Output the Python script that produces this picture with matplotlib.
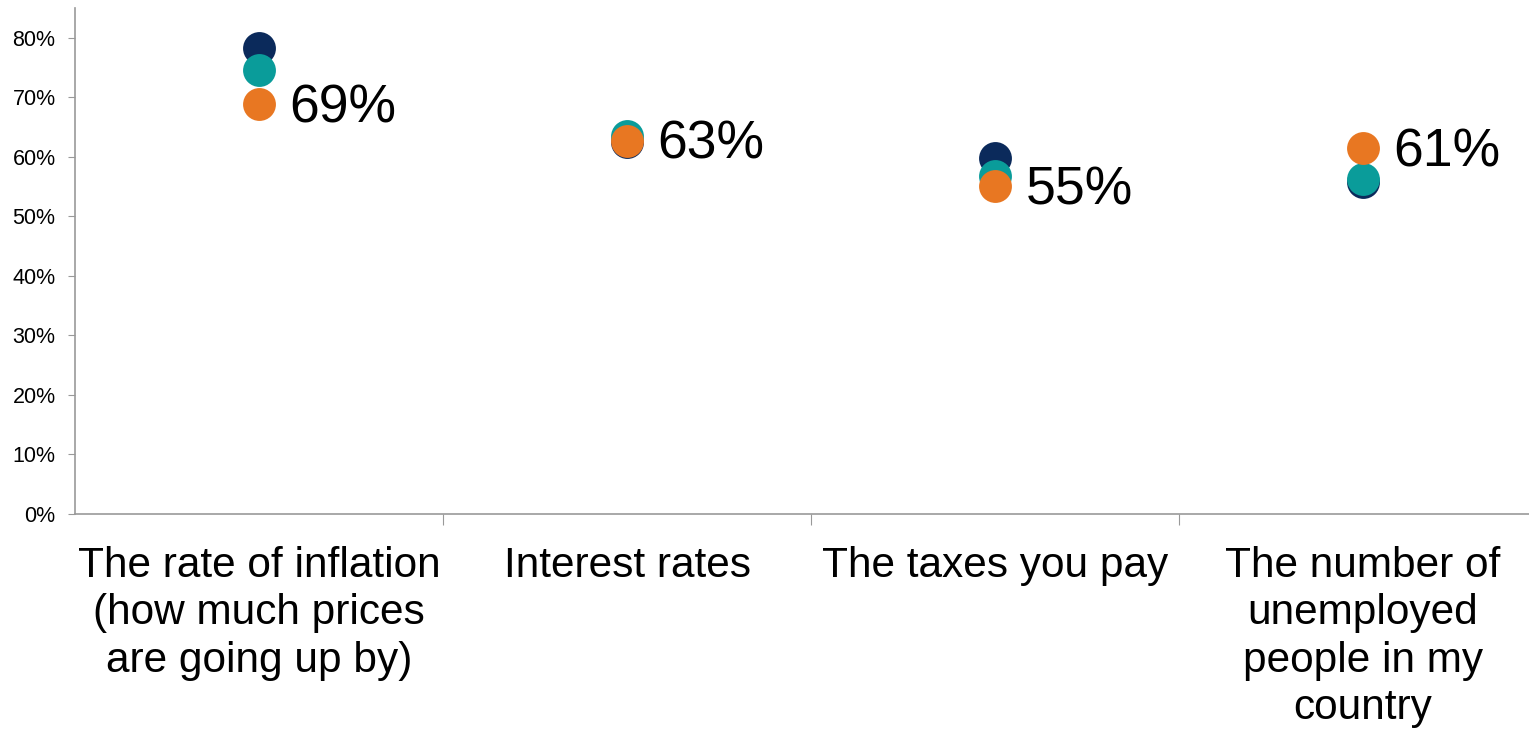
import matplotlib.pyplot as plt
from matplotlib.ticker import PercentFormatter

plt.rcParams['font.family'] = ['Liberation Sans', 'DejaVu Sans']

#____Data
categories = ["The rate of inflation\n(how much prices\nare going up by)",
              "Interest rates",
              "The taxes you pay",
              "The number of\nunemployed\npeople in my\ncountry"]
navy_vals = [78.2, 62.5, 59.8, 55.8]
teal_vals = [74.6, 63.5, 56.8, 56.3]
orange_vals = [68.9, 62.7, 55.1, 61.5]
orange_labels = ["69%", "63%", "55%", "61%"]
y_ticks = [0, 10, 20, 30, 40, 50, 60, 70, 80]

#____Figure
W, H = 1529, 731
fig = plt.figure(figsize=(W / 100, H / 100), dpi=100)
ax = fig.add_axes([75 / W, 217 / H, 1472 / W, 506 / H])

x = range(len(categories))
ax.scatter(x, navy_vals, s=560, color='#0b2a5b', zorder=3, linewidths=0)
ax.scatter(x, teal_vals, s=560, color='#0a9c9a', zorder=4, linewidths=0)
ax.scatter(x, orange_vals, s=560, color='#e87722', zorder=5, linewidths=0)

for xi, v, lab in zip(x, orange_vals, orange_labels):
    ax.annotate(lab, (xi, v), xytext=(22, -3), textcoords='offset points',
                ha='left', va='center', fontsize=38.5, color='black')

ax.set_xlim(-0.5, len(categories) - 0.5)
ax.set_ylim(0, 85)
ax.set_yticks(y_ticks)
ax.yaxis.set_major_formatter(PercentFormatter(decimals=0))
ax.tick_params(axis='y', labelsize=15.5, length=5, color='#999999', pad=9)

# category ticks sit between the groups
ax.set_xticks([i + 0.5 for i in range(len(categories) - 1)])
ax.set_xticklabels([])
ax.set_xticks(list(x), minor=True)
ax.set_xticklabels(categories, minor=True, fontsize=30.5, linespacing=1.24)
ax.tick_params(axis='x', which='major', length=8, color='#999999')
ax.tick_params(axis='x', which='minor', length=0, pad=23)

for side in ['top', 'right']:
    ax.spines[side].set_visible(False)
for side in ['left', 'bottom']:
    ax.spines[side].set_color('#999999')
    ax.spines[side].set_linewidth(1.2)

fig.savefig('out.png', dpi=100)
